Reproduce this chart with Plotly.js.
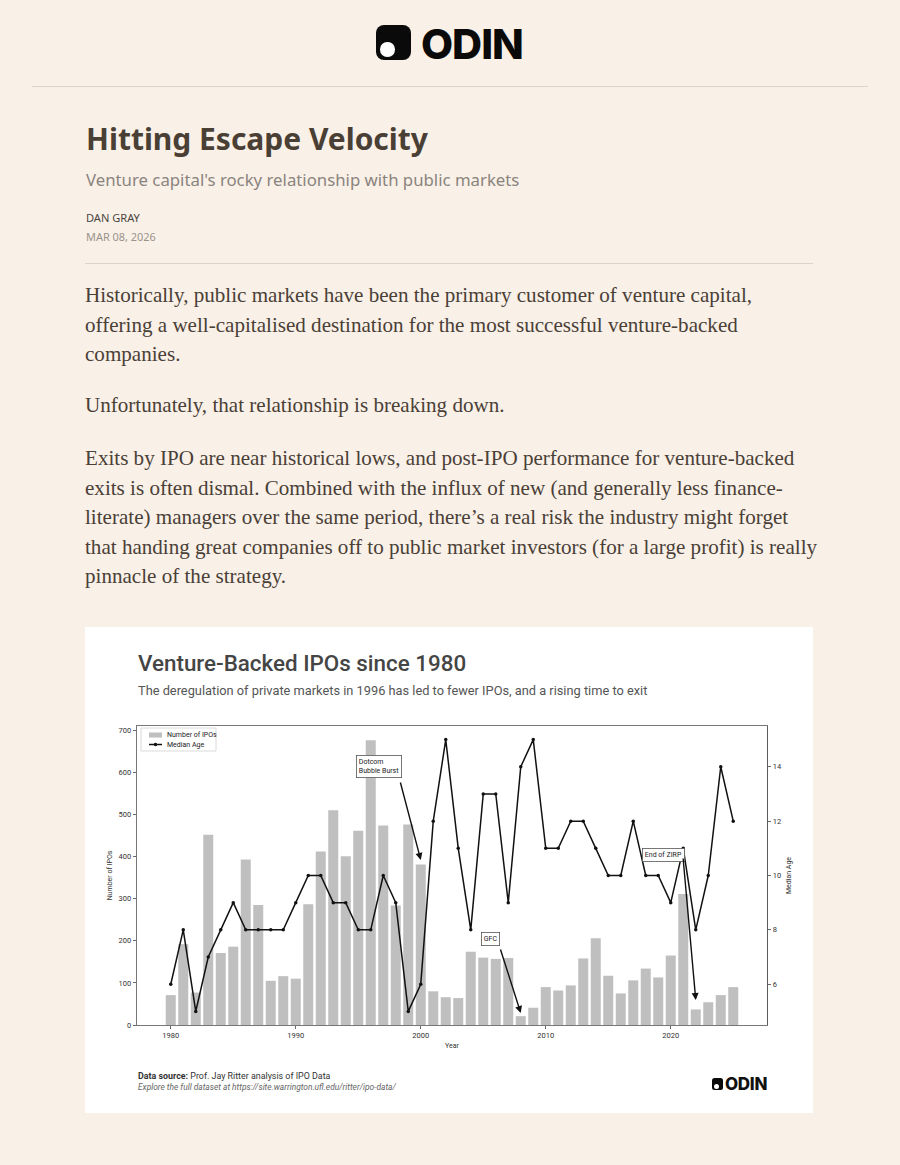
<!DOCTYPE html>
<html><head><meta charset="utf-8">
<script src="https://cdn.plot.ly/plotly-3.0.1.min.js"></script>
<style>
html,body{margin:0;padding:0;background:#f9f0e7;width:900px;height:1165px;overflow:hidden;position:relative;}
.t{position:absolute;white-space:nowrap;line-height:1.2;top:0;left:0;}
.rule{position:absolute;height:1px;background:#ddd3c8;}
.body{font-family:"Liberation Serif",serif;color:#4a4037;font-size:20px;}
#chart{position:absolute;left:85px;top:627px;width:728px;height:486px;background:#fff;}
.icon{position:absolute;background:#0a0a0a;}
.icon .dot{position:absolute;background:#fff;border-radius:50%;}
</style></head><body>

<div class="icon" id="hicon" style="left:376px;top:25px;width:35px;height:35px;border-radius:8px;">
  <div class="dot" style="left:4px;top:17px;width:14.5px;height:14.5px;"></div>
</div>
<div class="t" id="hodin" style="font-family:Inter,sans-serif;font-weight:800;font-size:43px;color:#0a0a0a;letter-spacing:-1px;">ODIN</div>
<div class="rule" style="left:32px;top:86px;width:836px;"></div>

<div class="t" id="title" style="font-family:'Noto Sans',sans-serif;font-weight:700;font-size:31px;color:#4a3f35;">Hitting Escape Velocity</div>
<div class="t" id="subtitle" style="font-family:'Noto Sans',sans-serif;font-size:17px;color:#8a847e;">Venture capital's rocky relationship with public markets</div>
<div class="t" id="author" style="font-family:'Noto Sans',sans-serif;font-size:11px;color:#4a4540;">DAN GRAY</div>
<div class="t" id="date" style="font-family:'Noto Sans',sans-serif;font-size:11px;color:#9a938c;">MAR 08, 2026</div>
<div class="rule" style="left:85px;top:263px;width:728px;"></div>

<div id="bodylines"></div>

<div id="chart"></div>
<div class="icon" style="left:712px;top:1078px;width:11px;height:12px;border-radius:2.5px;z-index:5;">
  <div class="dot" style="left:1.5px;top:6px;width:5px;height:5px;"></div>
</div>
<div class="t" id="codin" style="font-family:Inter,sans-serif;font-weight:800;font-size:15px;color:#111;letter-spacing:-0.3px;z-index:5;">ODIN</div>

<script>
// ---------- chart data ----------
const years = [1980,1981,1982,1983,1984,1985,1986,1987,1988,1989,
               1990,1991,1992,1993,1994,1995,1996,1997,1998,1999,
               2000,2001,2002,2003,2004,2005,2006,2007,2008,2009,
               2010,2011,2012,2013,2014,2015,2016,2017,2018,2019,
               2020,2021,2022,2023,2024,2025];
const ipoCounts = [71,192,77,452,171,186,393,285,105,116,
                   110,287,412,510,401,461,676,474,284,476,
                   381,80,66,64,174,160,157,159,21,41,
                   90,82,94,158,206,117,75,106,134,113,
                   165,311,37,54,71,90];
const medianAge = [6,8,5,7,8,9,8,8,8,8,
                   9,10,10,9,9,8,8,10,9,5,
                   6,12,15,11,8,13,13,9,14,15,
                   11,11,12,12,11,10,10,12,10,10,
                   9,11,8,10,14,12];
const xTicks = [1980,1990,2000,2010,2020];
const yTicks = [0,100,200,300,400,500,600,700];
const y2Ticks = [6,8,10,12,14];
const seriesNames = ['Number of IPOs','Median Age'];

// ---------- page text ----------
const bodyLines = [
  "Historically, public markets have been the primary customer of venture capital,",
  "offering a well-capitalised destination for the most successful venture-backed",
  "companies.",
  "Unfortunately, that relationship is breaking down.",
  "Exits by IPO are near historical lows, and post-IPO performance for venture-backed",
  "exits is often dismal. Combined with the influx of new (and generally less finance-",
  "literate) managers over the same period, there\u2019s a real risk the industry might forget",
  "that handing great companies off to public market investors (for a large profit) is really",
  "pinnacle of the strategy."
];
const bodyBaselines = [302,331.5,361,412,465,494.5,524,553.5,583];
const bodyFullWidths = [690,634,null,null,705,713,698,724,null];

function place(el, left, baseline, width){
  el.style.left = left+'px'; el.style.top = '0px';
  if (width){
    const w = el.getBoundingClientRect().width;
    const fs = parseFloat(getComputedStyle(el).fontSize);
    el.style.fontSize = (fs*width/w)+'px';
  }
  const m = document.createElement('span');
  m.style.cssText = 'display:inline-block;width:0;height:0;vertical-align:baseline;';
  el.appendChild(m);
  const b = m.getBoundingClientRect().top - el.getBoundingClientRect().top;
  el.style.top = (baseline - b)+'px';
}

function layoutPage(){
  place(document.getElementById('hodin'), 421, 58.5, 102);
  place(document.getElementById('title'), 86, 150, 342);
  place(document.getElementById('subtitle'), 86, 186, 434);
  place(document.getElementById('author'), 86, 221.5, 54);
  place(document.getElementById('date'), 86, 241, 70);
  place(document.getElementById('codin'), 725, 1090, 42);

  const host = document.getElementById('bodylines');
  const els = bodyLines.map(txt => {
    const d = document.createElement('div');
    d.className = 't body'; d.textContent = txt; host.appendChild(d); return d;
  });
  let sumW = 0, sumT = 0;
  els.forEach((d,i)=>{ if (bodyFullWidths[i]) { sumW += d.getBoundingClientRect().width; sumT += bodyFullWidths[i]; } });
  const fs = 20*sumT/sumW;
  els.forEach((d,i)=>{ d.style.fontSize = fs+'px'; place(d, 85, bodyBaselines[i]); });
}

function drawChart(){
  const barColor = '#bfbfbf', lineColor = '#111';
  const bars = {
    type:'bar', x:years, y:ipoCounts, name:seriesNames[0], width:0.8, showlegend:false,
    marker:{color:barColor, line:{width:0}}, hoverinfo:'skip'
  };
  const line = {
    type:'scatter', mode:'lines+markers', x:years, y:medianAge, yaxis:'y2', name:seriesNames[1], showlegend:false,
    line:{color:lineColor, width:1.5}, marker:{color:lineColor, size:3.5}, hoverinfo:'skip'
  };
  const axisCommon = {
    ticks:'outside', ticklen:3.5, tickwidth:0.8, tickcolor:'#444',
    showline:true, linecolor:'#555', linewidth:0.8, showgrid:false, zeroline:false,
    tickfont:{size:7.5, color:'#333'}
  };
  const boxStyle = {showarrow:false, bgcolor:'#fff', bordercolor:'#555', borderwidth:0.8, borderpad:2,
                    font:{size:7, color:'#222'}, align:'left', xref:'x', yref:'y'};
  const arrowStyle = {text:'', showarrow:true, arrowhead:2, arrowsize:1, arrowwidth:1.4,
                      arrowcolor:lineColor, standoff:0, xref:'x', yref:'y', axref:'x', ayref:'y'};
  const P = {xref:'paper', yref:'paper'};
  // compact legend (drawn with shapes + text, matching the small matplotlib-style legend)
  const legendShapes = [
    Object.assign({type:'rect', x0:0.0064, x1:0.1254, y0:0.9164, y1:0.9933,
      fillcolor:'#fff', line:{color:'#d0d0d0', width:0.8}, layer:'above'}, P),
    Object.assign({type:'rect', x0:0.019, x1:0.0397, y0:0.9615, y1:0.9783,
      fillcolor:barColor, line:{width:0}, layer:'above'}, P),
    Object.assign({type:'line', x0:0.019, x1:0.0397, y0:0.9381, y1:0.9381,
      line:{color:lineColor, width:1.5}, layer:'above'}, P),
    Object.assign({type:'circle', x0:0.0266, x1:0.0321, y0:0.9323, y1:0.9439,
      fillcolor:lineColor, line:{width:0}, layer:'above'}, P)
  ];
  const layout = {
    width:728, height:486,
    margin:{l:52, r:46, t:99, b:88, pad:0},
    paper_bgcolor:'#fff', plot_bgcolor:'#fff',
    font:{family:'Roboto, sans-serif', size:7.5, color:'#333'},
    showlegend:false,
    xaxis:Object.assign({range:[1977.3,2027.7], tickvals:xTicks, mirror:true,
            title:{text:'Year', font:{size:7, color:'#333'}, standoff:3}}, axisCommon),
    yaxis:Object.assign({range:[0,710], tickvals:yTicks, mirror:true,
            title:{text:'Number of IPOs', font:{size:7, color:'#333'}, standoff:4}}, axisCommon),
    yaxis2:Object.assign({range:[4.5,15.5], tickvals:y2Ticks, overlaying:'y', side:'right',
            title:{text:'Median Age', font:{size:7, color:'#333'}, standoff:4}}, axisCommon),
    shapes:legendShapes,
    annotations:[
      {xref:'paper', yref:'paper', x:-0.0016, y:1.2107, xanchor:'left', yanchor:'middle', showarrow:false,
       text:'Venture-Backed IPOs since 1980', font:{size:22.4, color:'#454545', weight:500}},
      {xref:'paper', yref:'paper', x:-0.0016, y:1.1204, xanchor:'left', yanchor:'middle', showarrow:false,
       text:'The deregulation of private markets in 1996 has led to fewer IPOs, and a rising time to exit',
       font:{size:12.8, color:'#555'}},
      {xref:'paper', yref:'paper', x:-0.0016, y:-0.1706, xanchor:'left', yanchor:'middle', showarrow:false,
       text:'<b>Data source:</b> Prof. Jay Ritter analysis of IPO Data', font:{size:8.9, color:'#333'}},
      {xref:'paper', yref:'paper', x:-0.0016, y:-0.2074, xanchor:'left', yanchor:'middle', showarrow:false,
       text:'<i>Explore the full dataset at https://site.warrington.ufl.edu/ritter/ipo-data/</i>',
       font:{size:8.4, color:'#666'}},
      {xref:'paper', yref:'paper', x:0.0444, y:0.9699, xanchor:'left', yanchor:'middle', showarrow:false,
       text:seriesNames[0], font:{size:7, color:'#222'}},
      {xref:'paper', yref:'paper', x:0.0444, y:0.9381, xanchor:'left', yanchor:'middle', showarrow:false,
       text:seriesNames[1], font:{size:7, color:'#222'}},
      Object.assign({x:1996.66, y:612.7, text:'Dotcom<br>Bubble Burst'}, boxStyle),
      Object.assign({x:2005.6, y:204.2, text:'GFC'}, boxStyle),
      Object.assign({x:2019.41, y:402.8, text:'End of ZIRP'}, boxStyle),
      Object.assign({x:2000, y:392, ax:1998.34, ay:579.4}, arrowStyle),
      Object.assign({x:2008, y:28.5, ax:2006.34, ay:182.9}, arrowStyle),
      Object.assign({x:2022, y:59.4, ax:2020.98, ay:399}, arrowStyle)
    ]
  };
  return Plotly.newPlot('chart', [bars, line], layout, {displayModeBar:false, staticPlot:true});
}

(document.fonts ? document.fonts.ready : Promise.resolve()).then(()=>{
  layoutPage();
  drawChart();
});
</script>
</body></html>
